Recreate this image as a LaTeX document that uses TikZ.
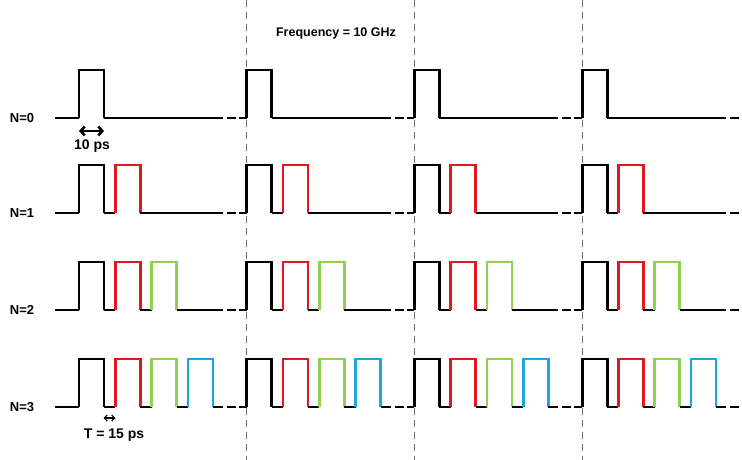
\documentclass[tikz,border=0pt]{standalone}
\usepackage{fontspec}
\setmainfont{Liberation Sans}
\usetikzlibrary{arrows.meta}
\definecolor{pr}{RGB}{226,24,32}
\definecolor{pg}{RGB}{146,208,80}
\definecolor{pb}{RGB}{28,166,224}
\definecolor{vg}{RGB}{110,110,110}
\colorlet{c0}{black}
\colorlet{c1}{pr}
\colorlet{c2}{pg}
\colorlet{c3}{pb}
\tikzset{
  pulse/.style={line width=2.8pt, line join=miter, line cap=butt},
  period/.style={vg, line width=1pt, dash pattern=on 7pt off 5pt},
  lbl/.style={font=\bfseries\fontsize{13}{15}\selectfont, inner sep=0pt},
  biglbl/.style={font=\bfseries\fontsize{14}{16}\selectfont, inner sep=0pt},
}
\begin{document}
\begin{tikzpicture}[x=1pt,y=-1pt]
\useasboundingbox (0,0) rectangle (742,460);
\fill[white] (0,0) rectangle (742,460);
\begin{scope}
\clip (0,0) rectangle (742,460);
% period lines
\foreach \g in {1,2,3} {
  \draw[period] ({79+167.7*\g},0) -- ({79+167.7*\g},460);
}
% waveforms
\foreach \r/\yb in {0/118,1/213,2/310,3/407} {
  \draw[pulse] (55,\yb) -- (79,\yb);
  \foreach \g in {0,...,3} {
    \pgfmathsetmacro\xo{79+167.7*\g}
    \foreach \i in {0,...,\r} {
      \pgfmathsetmacro\xi{\xo+36.3*\i}
      \draw[pulse, color=c\i] (\xi,\yb) -- (\xi,\yb-48) -- (\xi+25,\yb-48) -- (\xi+25,\yb);
      \ifnum\i<\r
        \draw[pulse] (\xi+25,\yb) -- (\xi+36.3,\yb);
      \fi
    }
    \draw[pulse] (\xo+36.3*\r+25,\yb) -- (\xo+144,\yb);
    \draw[pulse] (\xo+148,\yb) -- (\xo+157,\yb);
    \draw[pulse] (\xo+160,\yb) -- (\xo+167.7,\yb);
  }
}
\end{scope}
% labels
\node[lbl] (n0) at (22,118) {N=0};
\node[lbl] (n1) at (22,213) {N=1};
\node[lbl] (n2) at (22,310) {N=2};
\node[lbl] (n3) at (22,407) {N=3};
\node[font=\bfseries\fontsize{12.5}{15}\selectfont, inner sep=0pt] (freq) at (336,33) {Frequency = 10 GHz};
% 10 ps arrow
\coordinate (wa) at (79,131);
\coordinate (wb) at (104,131);
\draw[line width=2.6pt, {Straight Barb[length=4pt,width=9pt]}-{Straight Barb[length=4pt,width=9pt]}] (wa) -- (wb);
\node[biglbl] (w) at (92,146) {10 ps};
% T arrow
\coordinate (ta) at (103.5,418);
\coordinate (tb) at (115.5,418);
\draw[line width=1.1pt, {Straight Barb[length=3pt,width=6pt]}-{Straight Barb[length=3pt,width=6pt]}] (ta) -- (tb);
\node[biglbl] (t) at (114,435) {T = 15 ps};
\end{tikzpicture}
\end{document}
